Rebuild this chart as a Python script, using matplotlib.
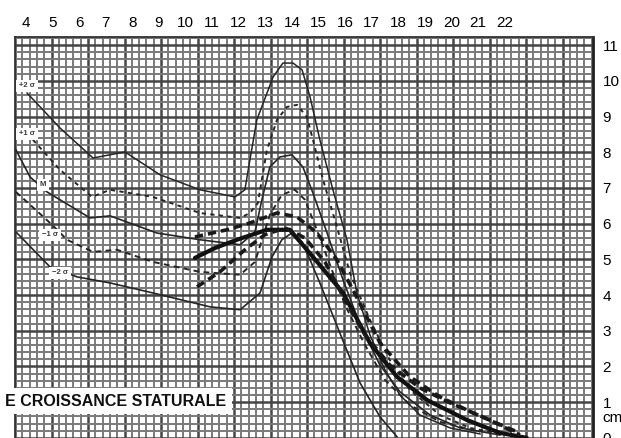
import matplotlib
matplotlib.use("Agg")
import matplotlib.pyplot as plt
import numpy as np
from matplotlib.patches import Rectangle

plt.rcParams['font.family'] = ['Liberation Sans', 'DejaVu Sans']

# ---------------- data (age in years, growth velocity in cm/year) ----------------
age_ticks = list(range(4, 23))
cm_ticks = list(range(0, 12))

plus2_x = [4.04, 5.28, 6.52, 7.72, 9.04, 10.54, 11.86, 12.23, 12.42, 12.68, 13.29, 13.66, 14.04,
           14.38, 14.68, 15.05, 15.54, 16.07, 16.44, 16.93, 17.50, 18.06, 18.81, 19.94, 21.07]
plus2_y = [9.66, 8.68, 7.84, 8.01, 7.37, 6.95, 6.75, 6.95, 7.79, 8.91, 10.11, 10.50, 10.50,
           10.31, 9.55, 8.35, 6.95, 5.55, 4.06, 2.89, 1.90, 1.20, 0.64, 0.28, 0.11]

plus1_x = [4.26, 5.28, 6.48, 7.16, 8.77, 10.54, 12.05, 12.42, 12.72, 13.06, 13.44, 13.81, 14.19,
           14.56, 14.79, 15.17, 15.69, 16.18, 16.93, 17.68, 18.44, 19.56, 20.69, 21.82]
plus1_y = [8.35, 7.51, 6.75, 6.95, 6.75, 6.30, 6.16, 6.30, 6.58, 8.07, 8.91, 9.27, 9.33,
           8.99, 8.35, 7.23, 5.91, 4.62, 3.31, 2.18, 1.34, 0.64, 0.28, 0.11]

mean_x = [3.62, 4.15, 4.79, 6.41, 7.16, 8.92, 10.54, 12.05, 12.61, 12.87, 13.17, 13.55, 14.00,
          14.41, 14.79, 15.32, 15.92, 16.56, 17.31, 18.06, 19.19, 20.32, 21.82]
mean_y = [8.07, 7.31, 6.89, 6.16, 6.22, 5.74, 5.55, 5.41, 5.77, 6.67, 7.59, 7.87, 7.93,
          7.59, 6.86, 5.74, 4.43, 3.17, 2.04, 1.29, 0.64, 0.28, 0.08]

minus1_x = [3.62, 4.98, 5.54, 6.52, 7.42, 8.77, 10.54, 12.05, 12.61, 13.17, 13.62, 14.11, 14.49,
            14.86, 15.43, 15.99, 16.74, 17.50, 18.44, 19.56, 21.07]
minus1_y = [6.89, 5.97, 5.55, 5.21, 5.27, 4.93, 4.65, 4.57, 4.93, 6.25, 6.81, 6.95, 6.67,
            5.97, 4.85, 3.73, 2.61, 1.62, 0.92, 0.45, 0.17]

minus2_x = [3.62, 4.90, 5.92, 7.16, 8.77, 10.92, 12.05, 12.80, 13.25, 13.62, 14.00, 14.38, 14.68,
            15.05, 15.80, 16.56, 17.31, 17.95]
minus2_y = [5.77, 4.79, 4.51, 4.34, 4.06, 3.67, 3.59, 4.06, 5.07, 5.55, 5.74, 5.49, 4.99,
            4.34, 2.94, 1.54, 0.59, 0.03]

thick_x = [10.35, 11.11, 11.93, 13.06, 13.92, 14.79, 15.92, 16.93, 17.95, 19.08, 20.58, 21.82, 22.83]
thick_y = [5.04, 5.32, 5.55, 5.83, 5.83, 5.07, 4.06, 2.66, 1.71, 1.06, 0.50, 0.14, 0.00]

dash_hi_x = [10.35, 11.56, 12.42, 13.44, 14.19, 14.94, 15.69, 16.29, 17.31, 18.44, 19.56, 20.80, 22.46]
dash_hi_y = [5.63, 5.83, 6.02, 6.30, 6.19, 5.74, 4.99, 4.15, 2.66, 1.71, 1.15, 0.70, 0.17]

dash_lo_x = [10.43, 11.29, 12.23, 12.98, 13.74, 14.49, 15.24, 15.99, 16.74, 17.68, 18.81, 19.94, 21.44, 22.57]
dash_lo_y = [4.23, 4.65, 5.27, 5.69, 5.88, 5.60, 4.93, 3.87, 2.89, 2.04, 1.40, 0.98, 0.50, 0.08]

curve_labels = ['+2 σ', '+1 σ', 'M', '−1 σ', '−2 σ']
label_x = [4.04, 4.04, 4.64, 4.90, 5.28]
label_y = [9.86, 8.52, 7.09, 5.69, 4.62]

title_text = 'E CROISSANCE STATURALE'

# ---------------- figure ----------------
W, H = 621, 438
fig = plt.figure(figsize=(W / 100, H / 100), dpi=100)
ax = fig.add_axes([15 / W, -12 / H, 578 / W, 413 / H])
x0, x1 = 3.586, 25.32
y0, y1 = -0.34, 11.23
ax.set_xlim(x0, x1)
ax.set_ylim(y0, y1)

# graph paper grid
cell_x = 0.2745
n_v = int((x1 - x0) / cell_x) + 1
for k in range(n_v):
    xv = x0 + k * cell_x
    major = (k % 5 == 0)
    ax.axvline(xv, color='#454545' if major else '#7a7a7a',
               lw=1.8 if major else 1.4, zorder=0.5)
for k in range(int(y0 * 5) - 1, int(y1 * 5) + 1):
    yv = k / 5
    major = (k % 5 == 0)
    ax.axhline(yv, color='#454545' if major else '#7a7a7a',
               lw=1.8 if major else 1.4, zorder=0.5)

ink = '#262626'
ax.plot(plus2_x, plus2_y, color=ink, lw=1.1, zorder=3)
ax.plot(plus1_x, plus1_y, color=ink, lw=1.4, ls=(0, (2.2, 2.2)), zorder=3)
ax.plot(mean_x, mean_y, color=ink, lw=1.2, zorder=3)
ax.plot(minus1_x, minus1_y, color=ink, lw=1.4, ls=(0, (3, 2.2)), zorder=3)
ax.plot(minus2_x, minus2_y, color=ink, lw=1.2, zorder=3)
ax.plot(thick_x, thick_y, color='#111111', lw=3.0, zorder=4, solid_capstyle='round')
ax.plot(dash_hi_x, dash_hi_y, color='#1a1a1a', lw=2.6, ls=(0, (2.3, 1.4)), zorder=4)
ax.plot(dash_lo_x, dash_lo_y, color='#1a1a1a', lw=2.6, ls=(0, (2.3, 1.4)), zorder=4)

for t, lx, ly in zip(curve_labels, label_x, label_y):
    ax.text(lx, ly, t, fontsize=5.5, fontweight='bold', ha='center', va='center',
            color='#3a3a3a', zorder=6,
            bbox=dict(boxstyle='square,pad=0.35', fc='white', ec='none'))

# ticks
ax.xaxis.tick_top()
ax.set_xticks(age_ticks)
ax.set_xticklabels([str(a) for a in age_ticks])
ax.yaxis.tick_right()
ax.set_yticks(cm_ticks)
ax.set_yticklabels([str(c) for c in cm_ticks])
ax.tick_params(axis='x', length=0, pad=5, labelsize=11)
ax.tick_params(axis='y', length=0, pad=7, labelsize=11)
for lab in ax.get_yticklabels():
    lab.set_horizontalalignment('left')
ax.annotate('cm', xy=(1, 0.56), xycoords=ax.get_yaxis_transform(), xytext=(7, 0),
            textcoords='offset points', ha='left', va='center', fontsize=11)

for side in ['left', 'top']:
    ax.spines[side].set_color('#333333')
    ax.spines[side].set_linewidth(1.3)
ax.spines['right'].set_color('#222222')
ax.spines['right'].set_linewidth(2.0)
ax.spines['bottom'].set_visible(False)

# white banner with the (truncated) title
fig.patches.append(Rectangle((0, 24 / H), 232 / W, 26 / H, transform=fig.transFigure,
                             facecolor='white', edgecolor='none', zorder=2.5))
fig.text(5 / W, 36 / H, title_text, fontsize=11.5, fontweight='bold', ha='left', va='center',
         color='#111111', zorder=3)

fig.savefig('out.png', dpi=100)
